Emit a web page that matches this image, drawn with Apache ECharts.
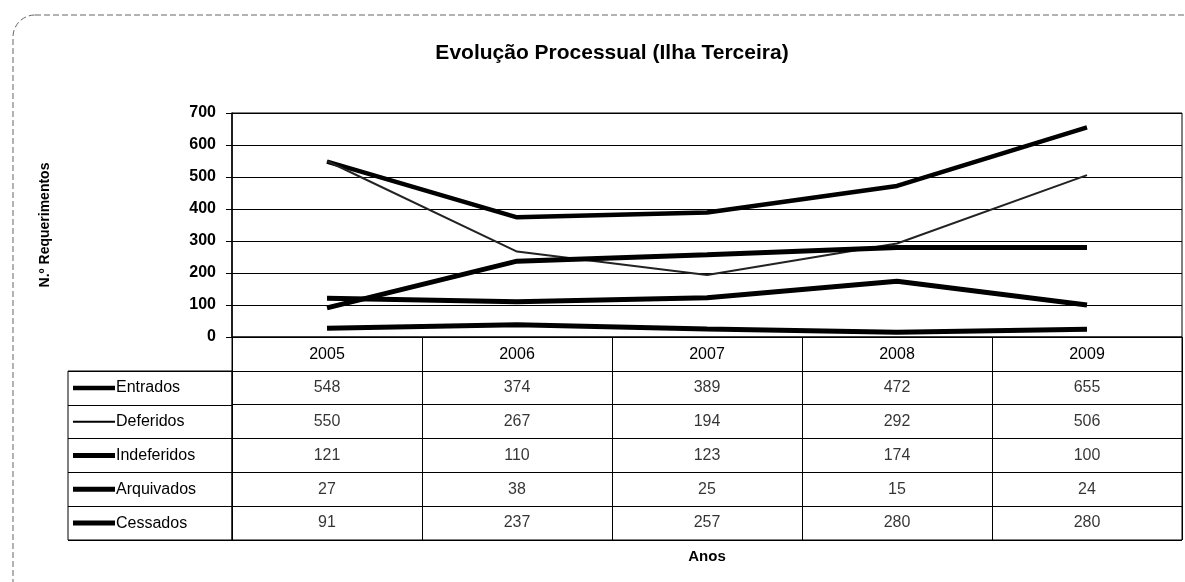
<!DOCTYPE html>
<html>
<head>
<meta charset="utf-8">
<script src="https://cdn.jsdelivr.net/npm/echarts@6/dist/echarts.min.js"></script>
<style>
  html, body { margin: 0; padding: 0; background: #fff; }
  #chart { width: 1185px; height: 582px; }
</style>
</head>
<body>
<div id="chart"></div>
<script>
// dados do gráfico
const anos = ['2005', '2006', '2007', '2008', '2009'];
const nomes = ['Entrados', 'Deferidos', 'Indeferidos', 'Arquivados', 'Cessados'];
const entrados = [548, 374, 389, 472, 655];
const deferidos = [550, 267, 194, 292, 506];
const indeferidos = [121, 110, 123, 174, 100];
const arquivados = [27, 38, 25, 15, 24];
const cessados = [91, 237, 257, 280, 280];
const yTicks = [0, 100, 200, 300, 400, 500, 600, 700];

const valores = [entrados, deferidos, indeferidos, arquivados, cessados];
const larguras = [4.5, 2, 5, 5, 5];

const FONT = '"Liberation Sans", Arial, sans-serif';
const chart = echarts.init(document.getElementById('chart'));

// células da tabela (linha 0 = cabeçalho dos anos)
const celulas = [];
valores.forEach((serie, i) => {
  serie.forEach((v, j) => celulas.push([anos[j], nomes[i], v]));
});

// chaves da legenda em rich text
const rich = { n: { fontSize: 16, fontFamily: FONT, color: '#000', padding: [0, 0, 0, 1] } };
nomes.forEach((nome, i) => {
  rich['k' + i] = { width: 42, height: larguras[i], backgroundColor: '#000' };
});

const linhas = nomes.map((nome, i) => ({
  name: nome,
  type: 'line',
  xAxisIndex: 0,
  yAxisIndex: 0,
  data: valores[i],
  symbol: 'none',
  lineStyle: { color: i === 1 ? '#222' : '#000', width: larguras[i] },
  z: 3
}));

const option = {
  animation: false,
  backgroundColor: '#fff',
  title: {
    text: 'Evolução Processual (Ilha Terceira)',
    left: 607,
    top: 38,
    textAlign: 'center',
    textStyle: { fontSize: 21, fontWeight: 'bold', color: '#000', fontFamily: FONT }
  },
  graphic: [{
    type: 'rect',
    shape: { x: 13, y: 15, width: 1200, height: 600, r: 22 },
    style: { fill: 'none', stroke: '#666', lineWidth: 1, lineDash: [6, 3] },
    silent: true,
    z: -1
  }],
  grid: [
    { left: 232, top: 113, width: 950, height: 224, show: true, borderColor: '#000', borderWidth: 1 },
    { left: 68, top: 371, width: 164, height: 169, show: true, borderColor: '#000', borderWidth: 1 },
    { left: 232, top: 337, width: 950, height: 203, show: true, borderColor: '#000', borderWidth: 1 }
  ],
  xAxis: [
    {
      type: 'category', gridIndex: 0, data: anos, boundaryGap: true,
      axisLine: { lineStyle: { color: '#000', width: 1 } },
      axisTick: { show: false },
      axisLabel: { margin: 10, fontSize: 16, color: '#000', fontFamily: FONT }
    },
    { type: 'value', gridIndex: 1, show: false },
    {
      type: 'category', gridIndex: 2, data: anos, boundaryGap: true,
      axisLine: { show: false }, axisTick: { show: false }, axisLabel: { show: false },
      splitLine: { show: true, interval: 0, lineStyle: { color: '#000', width: 1 } },
      name: 'Anos', nameLocation: 'middle', nameGap: 9,
      nameTextStyle: { fontSize: 15, fontWeight: 'bold', color: '#000', fontFamily: FONT }
    }
  ],
  yAxis: [
    {
      type: 'value', gridIndex: 0, min: 0, max: 700, interval: 100,
      axisLine: { show: true, lineStyle: { color: '#000', width: 1.5 } },
      axisTick: { show: true, length: 6, lineStyle: { color: '#000' } },
      axisLabel: {
        margin: 16, fontSize: 16, fontWeight: 'bold', color: '#000', fontFamily: FONT,
        formatter: v => (yTicks.indexOf(v) >= 0 ? String(v) : '')
      },
      splitLine: { show: true, lineStyle: { color: '#000', width: 1 } },
      name: 'N.º Requerimentos', nameLocation: 'middle', nameGap: 180, nameRotate: 90,
      nameTextStyle: { fontSize: 14, fontWeight: 'bold', color: '#000', fontFamily: FONT }
    },
    {
      type: 'category', gridIndex: 1, data: nomes, inverse: true,
      axisLine: { show: false }, axisTick: { show: false },
      splitLine: { show: true, interval: 0, lineStyle: { color: '#000', width: 1 } },
      axisLabel: {
        inside: true, margin: 5, interval: 0,
        formatter: (v, i) => '{k' + nomes.indexOf(v) + '|}{n|' + v + '}',
        rich: rich
      }
    },
    {
      type: 'category', gridIndex: 2, data: [''].concat(nomes), inverse: true,
      axisLine: { show: false }, axisTick: { show: false }, axisLabel: { show: false },
      splitLine: { show: true, interval: 0, lineStyle: { color: '#000', width: 1 } }
    }
  ],
  series: linhas.concat([{
    name: 'tabela',
    type: 'scatter',
    xAxisIndex: 2,
    yAxisIndex: 2,
    data: celulas,
    symbolSize: 1,
    itemStyle: { color: 'rgba(0,0,0,0)' },
    label: {
      show: true, position: 'inside',
      formatter: p => String(p.value[2]),
      fontSize: 16, color: '#000', fontFamily: FONT
    },
    silent: true
  }])
};

chart.setOption(option);
</script>
</body>
</html>
